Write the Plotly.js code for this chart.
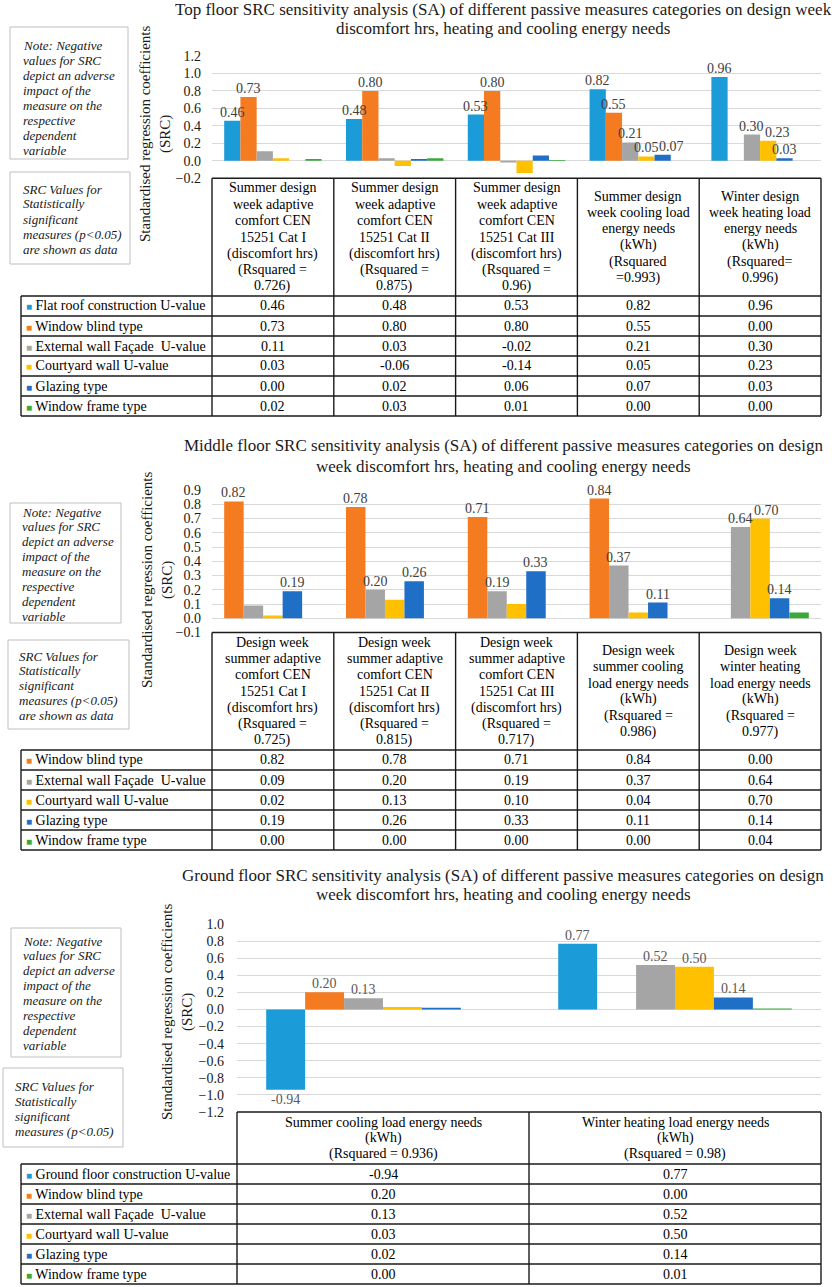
<!DOCTYPE html>
<html><head><meta charset="utf-8">
<script src="https://cdn.plot.ly/plotly-3.0.1.min.js"></script>
<style>html,body{margin:0;padding:0;background:#fff}</style>
</head><body><div id="chart" style="width:832px;height:1287px"></div>
<script>
// ================= DATA =================
// Top floor
const topTitle = ["Top floor SRC sensitivity analysis (SA) of different passive measures categories on design week",
                  "discomfort hrs, heating and cooling energy needs"];
const topCategories = [
  "Summer design<br>week adaptive<br>comfort CEN<br>15251 Cat I<br>(discomfort hrs)<br>(Rsquared =<br>0.726)",
  "Summer design<br>week adaptive<br>comfort CEN<br>15251 Cat II<br>(discomfort hrs)<br>(Rsquared =<br>0.875)",
  "Summer design<br>week adaptive<br>comfort CEN<br>15251 Cat III<br>(discomfort hrs)<br>(Rsquared =<br>0.96)",
  "Summer design<br>week cooling load<br>energy needs<br>(kWh)<br>(Rsquared<br>=0.993)",
  "Winter design<br>week heating load<br>energy needs<br>(kWh)<br>(Rsquared=<br>0.996)"
];
const topSeries = ["Flat roof construction U-value","Window blind type","External wall Façade  U-value","Courtyard wall U-value","Glazing type","Window frame type"];
const topFlatRoof  = [0.46, 0.48, 0.53, 0.82, 0.96];
const topBlind     = [0.73, 0.80, 0.80, 0.55, 0.00];
const topExtWall   = [0.11, 0.03, -0.02, 0.21, 0.30];
const topCourtyard = [0.03, -0.06, -0.14, 0.05, 0.23];
const topGlazing   = [0.00, 0.02, 0.06, 0.07, 0.03];
const topFrame     = [0.02, 0.03, 0.01, 0.00, 0.00];
// statistically significant (labelled) values
const topFlatRoofSig  = [1,1,1,1,1];
const topBlindSig     = [1,1,1,1,0];
const topExtWallSig   = [0,0,0,1,1];
const topCourtyardSig = [0,0,0,1,1];
const topGlazingSig   = [0,0,0,1,1];
const topFrameSig     = [0,0,0,0,0];

// Middle floor
const midTitle = ["Middle floor SRC sensitivity analysis (SA) of different passive measures categories on design",
                  "week discomfort hrs, heating and cooling energy needs"];
const midCategories = [
  "Design week<br>summer adaptive<br>comfort CEN<br>15251 Cat I<br>(discomfort hrs)<br>(Rsquared =<br>0.725)",
  "Design week<br>summer adaptive<br>comfort CEN<br>15251 Cat II<br>(discomfort hrs)<br>(Rsquared =<br>0.815)",
  "Design week<br>summer adaptive<br>comfort CEN<br>15251 Cat III<br>(discomfort hrs)<br>(Rsquared =<br>0.717)",
  "Design week<br>summer cooling<br>load energy needs<br>(kWh)<br>(Rsquared =<br>0.986)",
  "Design week<br>winter heating<br>load energy needs<br>(kWh)<br>(Rsquared =<br>0.977)"
];
const midSeries = ["Window blind type","External wall Façade  U-value","Courtyard wall U-value","Glazing type","Window frame type"];
const midBlind     = [0.82, 0.78, 0.71, 0.84, 0.00];
const midExtWall   = [0.09, 0.20, 0.19, 0.37, 0.64];
const midCourtyard = [0.02, 0.13, 0.10, 0.04, 0.70];
const midGlazing   = [0.19, 0.26, 0.33, 0.11, 0.14];
const midFrame     = [0.00, 0.00, 0.00, 0.00, 0.04];
const midBlindSig     = [1,1,1,1,0];
const midExtWallSig   = [0,1,1,1,1];
const midCourtyardSig = [0,0,0,0,1];
const midGlazingSig   = [1,1,1,1,1];
const midFrameSig     = [0,0,0,0,0];

// Ground floor
const grdTitle = ["Ground floor SRC sensitivity analysis (SA) of different passive measures categories on design",
                  "week discomfort hrs, heating and cooling energy needs"];
const grdCategories = [
  "Summer cooling load energy needs<br>(kWh)<br>(Rsquared = 0.936)",
  "Winter heating load energy needs<br>(kWh)<br>(Rsquared = 0.98)"
];
const grdSeries = ["Ground floor construction U-value","Window blind type","External wall Façade  U-value","Courtyard wall U-value","Glazing type","Window frame type"];
const grdFloor     = [-0.94, 0.77];
const grdBlind     = [0.20, 0.00];
const grdExtWall   = [0.13, 0.52];
const grdCourtyard = [0.03, 0.50];
const grdGlazing   = [0.02, 0.14];
const grdFrame     = [0.00, 0.01];
const grdFloorSig     = [1,1];
const grdBlindSig     = [1,0];
const grdExtWallSig   = [1,1];
const grdCourtyardSig = [0,1];
const grdGlazingSig   = [0,1];
const grdFrameSig     = [0,0];

const yAxisTitle = "Standardised regression coefficients<br>(SRC)";
const noteNegative = ["Note: Negative","values for SRC","depict an adverse","impact of the","measure on the","respective","dependent","variable"];
const noteSignificant = ["SRC Values for","Statistically","significant","measures (p&lt;0.05)","are shown as data"];

// ================= STYLE / LAYOUT =================
const W = 832, H = 1287;
const px = x => x / W, py = y => 1 - y / H;
const F = 'Liberation Serif, Times New Roman, serif';
const C = {roof:'#1b9bd7', blind:'#f47b20', ext:'#a5a5a5', court:'#ffc000', glaz:'#1f6fc6', frame:'#3aa83a'};
const BARGAP = 0.2;

const panels = [
  {xa:'x', ya:'y', cats:topCategories, names:topSeries,
   vals:[topFlatRoof,topBlind,topExtWall,topCourtyard,topGlazing,topFrame],
   sig:[topFlatRoofSig,topBlindSig,topExtWallSig,topCourtyardSig,topGlazingSig,topFrameSig],
   cols:[C.roof,C.blind,C.ext,C.court,C.glaz,C.frame],
   x0:212, x1:821, yTop:56, yBot:178.3, range:[-0.2,1.2], dtick:0.2, standoff:10,
   headerBot:296, lineH:16.4, labelLeft:21, title:topTitle, titleY:[9.5,28.5], ytX:156, ytY:134,
   labelColor:'#404040',
   notes:[{x0:10,x1:128,y0:27,y1:159,tx:21,ty:46,dy:14.9,lines:noteNegative},
          {x0:10,x1:130,y0:172,y1:264,tx:21,ty:189,dy:15,lines:noteSignificant}]},
  {xa:'x2', ya:'y2', cats:midCategories, names:midSeries,
   vals:[midBlind,midExtWall,midCourtyard,midGlazing,midFrame],
   sig:[midBlindSig,midExtWallSig,midCourtyardSig,midGlazingSig,midFrameSig],
   cols:[C.blind,C.ext,C.court,C.glaz,C.frame],
   x0:212, x1:821, yTop:490, yBot:632.5, range:[-0.1,0.9], dtick:0.1, standoff:10,
   headerBot:750, lineH:16.3, labelLeft:21, title:midTitle, titleY:[445,466], ytX:157, ytY:580,
   labelColor:'#404040',
   notes:[{x0:10,x1:121,y0:503,y1:623,tx:20,ty:512,dy:14.9,lines:noteNegative},
          {x0:8,x1:129,y0:640,y1:729,tx:17,ty:656,dy:14.8,lines:noteSignificant}]},
  {xa:'x3', ya:'y3', cats:grdCategories, names:grdSeries,
   vals:[grdFloor,grdBlind,grdExtWall,grdCourtyard,grdGlazing,grdFrame],
   sig:[grdFloorSig,grdBlindSig,grdExtWallSig,grdCourtyardSig,grdGlazingSig,grdFrameSig],
   cols:[C.roof,C.blind,C.ext,C.court,C.glaz,C.frame],
   x0:237, x1:821, yTop:924, yBot:1112, range:[-1.2,1.0], dtick:0.2, standoff:12,
   headerBot:1164, lineH:16, labelLeft:21, title:grdTitle, titleY:[875,895], ytX:177, ytY:1012,
   labelColor:'#595959',
   notes:[{x0:11,x1:121,y0:928,y1:1057,tx:21,ty:941,dy:14.9,lines:noteNegative},
          {x0:3,x1:123,y0:1068,y1:1147,tx:13,ty:1086,dy:15,lines:noteSignificant.slice(0,4)}]}
];

const traces = [], annotations = [], shapes = [];
const layout = {
  width:W, height:H, margin:{l:0,r:0,t:0,b:0}, paper_bgcolor:'#fff', plot_bgcolor:'rgba(0,0,0,0)',
  barmode:'group', bargap:BARGAP, bargroupgap:0, showlegend:false, font:{family:F, color:'#000'}
};
const ann = (x, y, text, o) => Object.assign({xref:'paper', yref:'paper', x:px(x), y:py(y), text, showarrow:false,
  xanchor:'center', yanchor:'middle', font:{family:F, size:14, color:'#000'}}, o || {});
const line = (x0,y0,x1,y1,color,w) => ({type:'line', xref:'paper', yref:'paper', x0:px(x0), y0:py(y0), x1:px(x1), y1:py(y1), line:{color, width:w}});

panels.forEach((p, pi) => {
  const sfx = pi === 0 ? '' : String(pi+1);
  layout['xaxis'+sfx] = {domain:[px(p.x0), px(p.x1)], anchor:p.ya, type:'category', range:[-0.5, p.cats.length-0.5],
    showticklabels:false, showgrid:false, zeroline:false, showline:false, ticks:'', fixedrange:true};
  layout['yaxis'+sfx] = {domain:[py(p.yBot), py(p.yTop)], anchor:p.xa, range:p.range, dtick:p.dtick, tick0:0,
    tickformat:'.1f', showgrid:true, gridcolor:'#d9d9d9', gridwidth:1, zeroline:false, showline:false, ticks:'',
    ticklabelstandoff:p.standoff, tickfont:{family:F, size:14, color:'#1a1a1a'}, fixedrange:true};

  const ns = p.vals.length, n = p.cats.length;
  const cw = (p.x1 - p.x0) / n;                       // category width, px
  const pxPerUnit = (p.yBot - p.yTop) / (p.range[1] - p.range[0]);
  p.vals.forEach((v, i) => {
    traces.push({type:'bar', x:p.cats, y:v, xaxis:p.xa, yaxis:p.ya, name:p.names[i],
      marker:{color:p.cols[i], line:{width:0}}, textposition:'none', hoverinfo:'skip'});
  });

  // data labels (significant values) placed on the axes, with simple de-overlap
  const lblSize = 14;
  for (let c = 0; c < n; c++) {
    let prev = null;
    for (let i = 0; i < ns; i++) {
      if (!p.sig[i][c]) continue;
      const v = p.vals[i][c], txt = v.toFixed(2);
      const off = (i - (ns - 1) / 2) * (1 - BARGAP) / ns;
      const w = lblSize * (txt.replace('-','').length * 0.5 - 0.25 + (v < 0 ? 0.333 : 0));
      const cx = (c + off) * cw;
      const ty = v >= 0 ? -v * pxPerUnit : -v * pxPerUnit + lblSize + 4;  // approx text level (down = +)
      let shift = 0;
      if (prev && Math.abs(prev.ty - ty) < lblSize - 2) {
        const need = (prev.cx + prev.shift + prev.w / 2 + 1) - (cx - w / 2);
        if (need > 0) shift = need;
      }
      annotations.push({xref:p.xa, yref:p.ya, x:c + off, y:v, text:txt, showarrow:false,
        xanchor:'center', yanchor: v >= 0 ? 'bottom' : 'top', xshift:shift, yshift: v >= 0 ? 0 : -1,
        borderpad:0, font:{family:F, size:lblSize, color:p.labelColor}});
      prev = {cx, ty, w, shift};
    }
  }

  // titles
  p.title.forEach((t, k) => annotations.push(ann(503, p.titleY[k], t, {font:{family:F, size:17, color:'#1a1a1a'}})));
  // y-axis title
  annotations.push(ann(p.ytX, p.ytY, yAxisTitle, {textangle:-90, font:{family:F, size:15, color:'#1a1a1a'}}));

  // table
  const rowH = 20, nr = p.names.length;
  const tBot = p.headerBot + nr * rowH, LC = '#1a1a1a', LW = 1.4;
  shapes.push(line(p.x0, p.yBot, p.x1, p.yBot, LC, LW));
  for (let c = 0; c <= n; c++) shapes.push(line(p.x0 + c*cw, p.yBot, p.x0 + c*cw, tBot, LC, LW));
  shapes.push(line(p.labelLeft, p.headerBot, p.labelLeft, tBot, LC, LW));
  for (let r = 0; r <= nr; r++) shapes.push(line(p.labelLeft, p.headerBot + r*rowH, p.x1, p.headerBot + r*rowH, LC, LW));
  // header text (category labels)
  p.cats.forEach((cat, c) => {
    const lines = cat.split('<br>');
    const mid = (p.yBot + p.headerBot) / 2;
    const first = mid - (lines.length - 1) * p.lineH / 2;
    lines.forEach((l, k) => annotations.push(ann(p.x0 + (c+0.5)*cw, first + k*p.lineH, l)));
  });
  // rows
  p.names.forEach((nm, r) => {
    const yc = p.headerBot + (r + 0.5) * rowH;
    annotations.push(ann(p.labelLeft + 3, yc, '<span style="color:' + p.cols[r] + ';font-size:10px">■</span> ' + nm, {xanchor:'left'}));
    p.vals[r].forEach((v, c) => annotations.push(ann(p.x0 + (c+0.5)*cw, yc, v.toFixed(2))));
  });
  // notes
  p.notes.forEach(nt => {
    shapes.push({type:'rect', xref:'paper', yref:'paper', x0:px(nt.x0), x1:px(nt.x1), y0:py(nt.y0), y1:py(nt.y1),
      line:{color:'#bfbfbf', width:1}, fillcolor:'rgba(0,0,0,0)'});
    nt.lines.forEach((l, k) => annotations.push(ann(nt.tx, nt.ty + k*nt.dy, '<i>' + l + '</i>',
      {xanchor:'left', font:{family:F, size:13, color:'#1a1a1a'}})));
  });
});

layout.annotations = annotations;
layout.shapes = shapes;
Plotly.newPlot('chart', traces, layout, {staticPlot:true, displayModeBar:false});
</script></body></html>
